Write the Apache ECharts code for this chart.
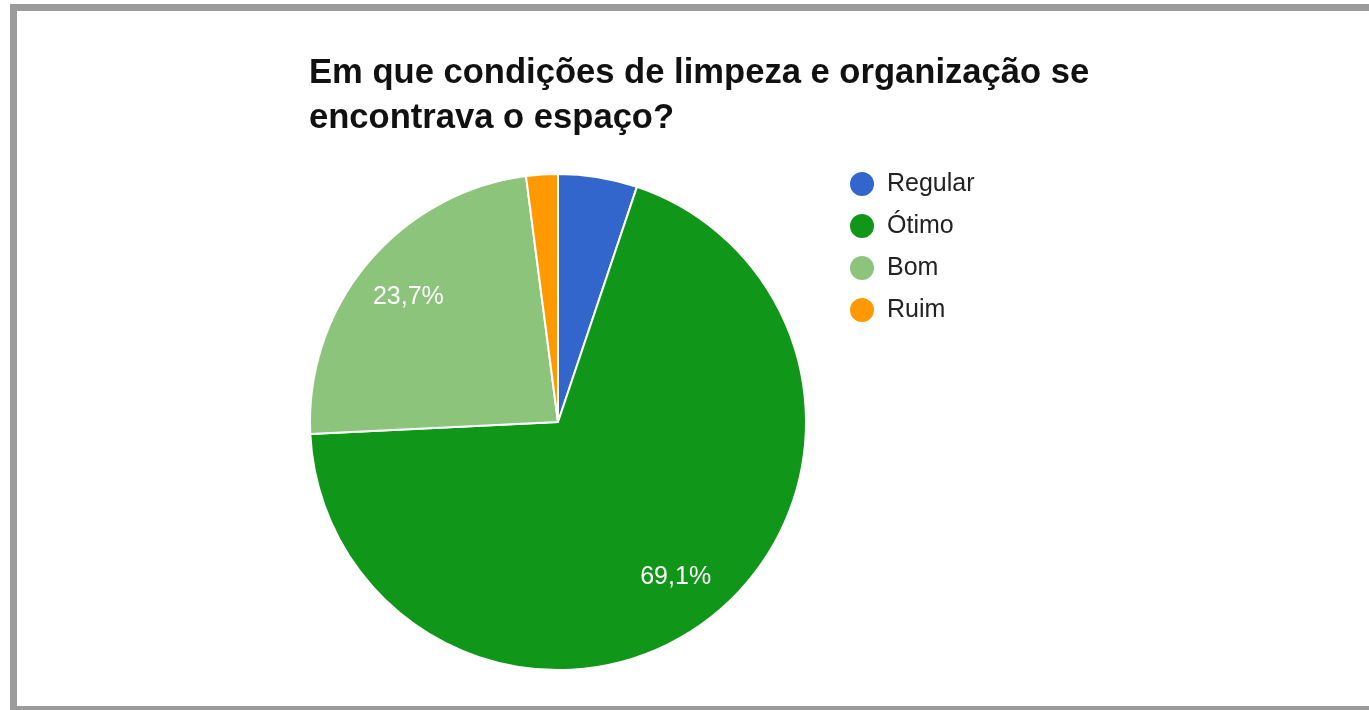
<!DOCTYPE html>
<html>
<head>
<meta charset="utf-8">
<script src="https://cdn.jsdelivr.net/npm/echarts@6/dist/echarts.min.js"></script>
<style>
html,body{margin:0;padding:0;background:#fff;}
#c{width:1369px;height:710px;}
</style>
</head>
<body>
<div id="c"></div>
<script>
const titleText = 'Em que condições de limpeza e organização se\nencontrava o espaço?';
const categories = ['Regular', 'Ótimo', 'Bom', 'Ruim'];
const counts = [5, 67, 23, 2];
const colors = ['#3366cc', '#109618', '#8cc47c', '#ff9900'];

const total = counts.reduce((a, b) => a + b, 0);
const pieData = categories.map((name, i) => ({ name: name, value: counts[i], itemStyle: { color: colors[i] } }));
const labelData = categories.map((name, i) => ({
  name: name,
  value: counts[i],
  label: { show: counts[i] / total >= 0.1 }
}));

const chart = echarts.init(document.getElementById('c'), null, { renderer: 'canvas' });
chart.setOption({
  animation: false,
  backgroundColor: '#ffffff',
  title: {
    text: titleText,
    left: 309,
    top: 51,
    padding: 0,
    textStyle: {
      fontFamily: 'Liberation Sans, Arial, sans-serif',
      fontSize: 34.6,
      fontWeight: 'bold',
      color: '#111',
      lineHeight: 45
    }
  },
  legend: {
    orient: 'vertical',
    left: 848,
    top: 170,
    padding: 0,
    itemWidth: 26,
    itemHeight: 26,
    itemGap: 14,
    icon: 'circle',
    selectedMode: false,
    data: categories,
    textStyle: {
      fontFamily: 'Liberation Sans, Arial, sans-serif',
      fontSize: 25,
      color: '#222',
      padding: [0, 0, 0, 7]
    }
  },
  graphic: [{
    type: 'rect',
    silent: true,
    z: 100,
    shape: { x: 13.5, y: 7.5, width: 1400, height: 702 },
    style: { fill: 'none', stroke: '#9b9b9b', lineWidth: 7 }
  }],
  series: [
    {
      type: 'pie',
      center: [558, 422],
      radius: [0, 248],
      startAngle: 90,
      clockwise: true,
      silent: true,
      label: { show: false },
      labelLine: { show: false },
      itemStyle: { borderColor: '#ffffff', borderWidth: 2 },
      data: pieData
    },
    {
      type: 'pie',
      center: [558, 422],
      radius: [136, 248],
      startAngle: 90,
      clockwise: true,
      silent: true,
      z: 5,
      itemStyle: { color: 'rgba(0,0,0,0)', borderWidth: 0 },
      labelLine: { show: false },
      label: {
        position: 'inside',
        fontFamily: 'Liberation Sans, Arial, sans-serif',
        fontSize: 25,
        color: '#ffffff',
        formatter: function (p) {
          return (p.value / total * 100).toFixed(1).replace('.', ',') + '%';
        }
      },
      data: labelData
    }
  ]
});
</script>
</body>
</html>
